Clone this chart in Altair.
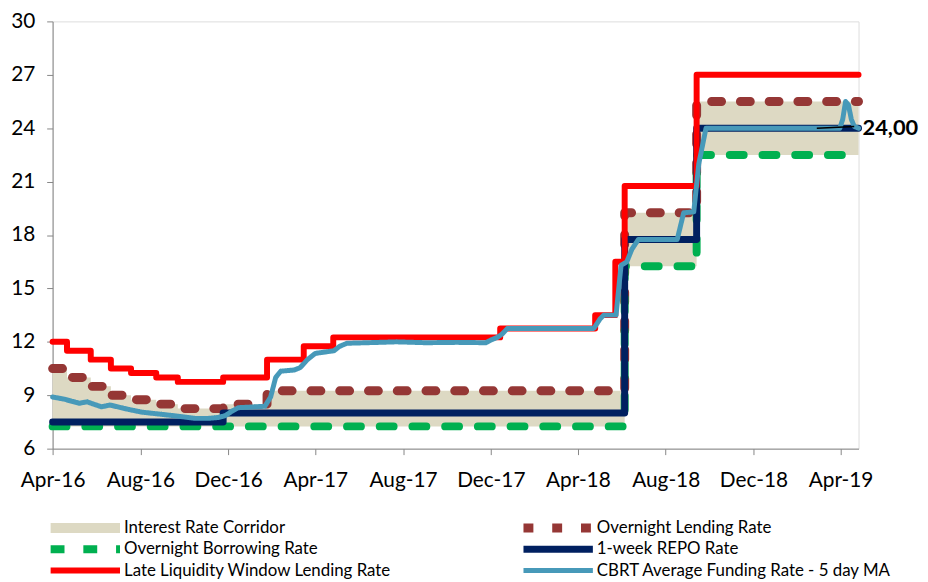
import altair as alt
import pandas as pd

# ---------------- data ----------------
CORR = "Interest Rate Corridor"
LEND = "Overnight Lending Rate"
BORR = "Overnight Borrowing Rate"
REPO = "1-week REPO Rate"
LLW = "Late Liquidity Window Lending Rate"
CBRT = "CBRT Average Funding Rate - 5 day MA"

legend_order = [CORR, LEND, BORR, REPO, LLW, CBRT]
series_colors = ["#DDD9C3", "#953735", "#00B050", "#002060", "#FF0000", "#4799B9"]
series_dashes = [[1, 0], [10, 19], [14, 19], [1, 0], [1, 0], [1, 0]]
series_widths = [10, 5, 5, 5, 5, 5]

repo_dates = ["2016-04-01", "2016-11-24", "2018-06-05", "2018-09-13", "2019-04-26"]
repo_vals = [7.5, 8.0, 17.75, 24.0, 24.0]

borr_dates = ["2016-04-01", "2018-06-05", "2018-09-13", "2019-04-26"]
borr_vals = [7.25, 16.25, 22.5, 22.5]

lend_dates = ["2016-04-01", "2016-04-21", "2016-05-24", "2016-06-21", "2016-07-19",
              "2016-08-23", "2016-09-22", "2016-11-24", "2017-01-24",
              "2018-06-05", "2018-09-13", "2019-04-26"]
lend_vals = [10.5, 10.0, 9.5, 9.0, 8.75, 8.5, 8.25, 8.5, 9.25, 19.25, 25.5, 25.5]

llw_dates = ["2016-04-01", "2016-04-21", "2016-05-24", "2016-06-21", "2016-07-19",
             "2016-08-23", "2016-09-22", "2016-11-24", "2017-01-24", "2017-03-16",
             "2017-04-26", "2017-12-14", "2018-04-25", "2018-05-23", "2018-06-05",
             "2018-09-13", "2019-04-26"]
llw_vals = [12.0, 11.5, 11.0, 10.5, 10.25, 10.0, 9.75, 10.0, 11.0, 11.75,
            12.25, 12.75, 13.5, 16.5, 20.75, 27.0, 27.0]

cbrt_dates = ["2016-04-01", "2016-04-17", "2016-05-08", "2016-05-19", "2016-05-28",
              "2016-06-08", "2016-06-20", "2016-07-05", "2016-07-16", "2016-08-03",
              "2016-08-30", "2016-09-23", "2016-10-16", "2016-11-03", "2016-11-17",
              "2016-11-27", "2016-12-06", "2016-12-15", "2017-01-21", "2017-01-29",
              "2017-02-05", "2017-02-12", "2017-03-03", "2017-03-11", "2017-03-21",
              "2017-04-01", "2017-04-27", "2017-05-05", "2017-05-15", "2017-06-12",
              "2017-07-23", "2017-09-02", "2017-10-14", "2017-11-24", "2017-12-01",
              "2017-12-10", "2017-12-17", "2017-12-24", "2018-04-23", "2018-05-02",
              "2018-05-07", "2018-05-24", "2018-05-31", "2018-06-08", "2018-06-15",
              "2018-06-24", "2018-08-17", "2018-08-26", "2018-09-09", "2018-09-16",
              "2018-09-26", "2018-12-01", "2019-03-31", "2019-04-04", "2019-04-08",
              "2019-04-12", "2019-04-16", "2019-04-20", "2019-04-26"]
cbrt_vals = [8.9, 8.78, 8.55, 8.63, 8.5,
             8.35, 8.45, 8.3, 8.2, 8.05,
             7.93, 7.82, 7.7, 7.7, 7.75,
             7.85, 8.1, 8.3, 8.38, 8.9,
             10.0, 10.35, 10.42, 10.55, 11.0,
             11.35, 11.5, 11.75, 11.92, 11.95,
             12.0, 11.95, 11.97, 11.95, 12.1,
             12.25, 12.45, 12.75, 12.75, 13.3,
             13.5, 13.5, 16.3, 16.5, 17.2,
             17.75, 17.75, 19.25, 19.3, 22.0,
             24.0, 24.0, 24.0, 24.5, 25.5,
             25.3, 24.5, 24.1, 24.0]

label_date = ["2019-04-26"]
label_val = [24.0]
label_text = ["24,00"]
leader_dates = ["2019-02-27", "2019-04-20"]
leader_vals = [24.0, 24.1]

x_tick_dates = ["2016-04-01", "2016-08-01", "2016-12-01", "2017-04-01", "2017-08-01",
                "2017-12-01", "2018-04-01", "2018-08-01", "2018-12-01", "2019-04-01"]
y_ticks = [6, 9, 12, 15, 18, 21, 24, 27, 30]

# ---------------- tables ----------------
def frame(name, dates, vals):
    return pd.DataFrame({"date": pd.to_datetime(dates), "value": vals, "series": name})

steps = {LEND: frame(LEND, lend_dates, lend_vals),
         BORR: frame(BORR, borr_dates, borr_vals),
         REPO: frame(REPO, repo_dates, repo_vals),
         LLW: frame(LLW, llw_dates, llw_vals)}
cbrt_df = frame(CBRT, cbrt_dates, cbrt_vals)

# corridor: borrowing rate (lower) to lending rate (upper) on the union of change dates
all_dates = sorted(set(pd.to_datetime(borr_dates)) | set(pd.to_datetime(lend_dates)))
corr_df = pd.DataFrame({"date": all_dates})
corr_df = pd.merge_asof(corr_df, steps[BORR][["date", "value"]].rename(columns={"value": "lower"}), on="date")
corr_df = pd.merge_asof(corr_df, steps[LEND][["date", "value"]].rename(columns={"value": "upper"}), on="date")

label_df = pd.DataFrame({"date": pd.to_datetime(label_date), "value": label_val, "text": label_text})
leader_df = pd.DataFrame({"date": [pd.to_datetime(leader_dates[0])], "date2": [pd.to_datetime(leader_dates[1])],
                          "value": [leader_vals[0]], "value2": [leader_vals[1]]})

def dt(s):
    t = pd.Timestamp(s)
    return alt.DateTime(year=t.year, month=t.month, date=t.day)

FONT = "Lato"

x_scale = alt.Scale(domain=[dt("2016-04-01"), dt("2019-04-26")], nice=False)
y_scale = alt.Scale(domain=[6, 30], nice=False, zero=False)

x_enc = alt.X("date:T", scale=x_scale, title=None,
              axis=alt.Axis(values=[dt(d) for d in x_tick_dates], format="%b-%y",
                            labelFont=FONT, labelFontSize=21, labelColor="black",
                            domainColor="#868686", tickColor="#868686", tickSize=6,
                            labelPadding=15, grid=False, labelFlush=False, labelOverlap=False))
y_enc = alt.Y("value:Q", scale=y_scale, title=None,
              axis=alt.Axis(values=y_ticks, labelFont=FONT, labelFontSize=21, labelColor="black",
                            domainColor="#868686", tickColor="#868686", tickSize=6,
                            labelPadding=12, grid=False))

color_scale = alt.Scale(domain=legend_order, range=series_colors)
dash_scale = alt.Scale(domain=legend_order, range=series_dashes)
width_scale = alt.Scale(domain=legend_order, range=series_widths)

legend = alt.Legend(title=None, orient="none", legendX=-14, legendY=502, columns=2,
                    direction="horizontal", columnPadding=121, rowPadding=3.5,
                    clipHeight=18, labelFont=FONT, labelFontSize=17,
                    labelColor="black", symbolType="M0,0H10", symbolSize=196,
                    labelOffset=62, padding=0, labelLimit=400)

def line_layer(df, interp):
    return alt.Chart(df).mark_line(interpolate=interp, strokeCap="round", strokeJoin="round").encode(
        x=x_enc, y=y_enc,
        color=alt.Color("series:N", scale=color_scale, legend=legend),
        strokeDash=alt.StrokeDash("series:N", scale=dash_scale, legend=legend),
        strokeWidth=alt.StrokeWidth("series:N", scale=width_scale, legend=legend),
    )

area = alt.Chart(corr_df).mark_area(interpolate="step-after", color="#DDD9C3").encode(
    x=x_enc, y=alt.Y("lower:Q", scale=y_scale), y2="upper:Q")

layers = [area,
          line_layer(steps[LEND], "step-after"),
          line_layer(steps[BORR], "step-after"),
          line_layer(steps[REPO], "step-after"),
          line_layer(steps[LLW], "step-after"),
          line_layer(cbrt_df, "linear")]

leader = alt.Chart(leader_df).mark_rule(color="black", strokeWidth=1.5).encode(
    x=alt.X("date:T", scale=x_scale), x2="date2:T",
    y=alt.Y("value:Q", scale=y_scale), y2="value2:Q")

label = alt.Chart(label_df).mark_text(align="left", baseline="middle", dx=4, font=FONT,
                                      fontSize=22, fontWeight="bold", color="black").encode(
    x=alt.X("date:T", scale=x_scale), y=alt.Y("value:Q", scale=y_scale), text="text:N")

chart = alt.layer(*layers, leader, label).properties(
    width=813, height=431,
    autosize=alt.AutoSizeParams(type="none"),
    padding={"left": 45, "top": 11, "right": 62, "bottom": 132},
).configure_view(stroke=None).configure(background="white")

chart.save("out.html", embed_options={"renderer": "svg", "actions": False})
